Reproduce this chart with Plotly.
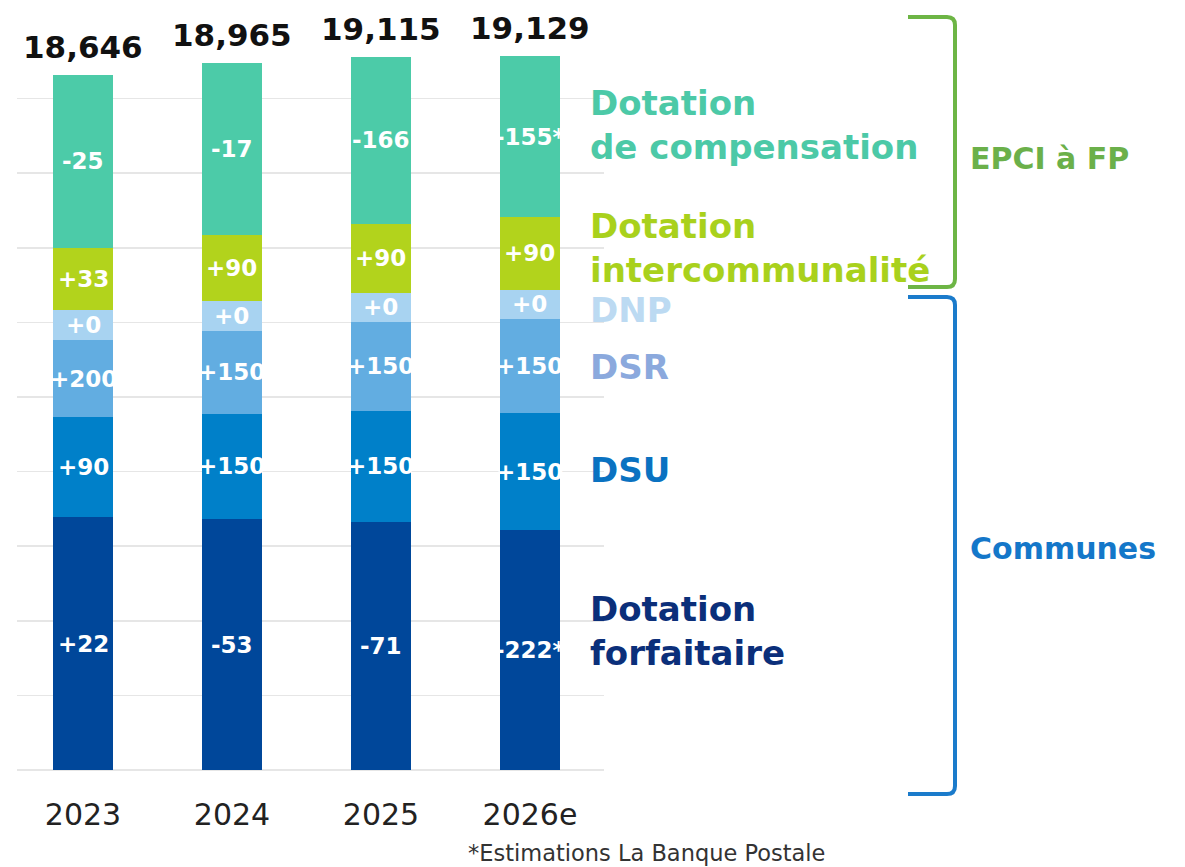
import plotly.graph_objects as go

# ---------------- data (millions d'euros) ----------------
years = ["2023", "2024", "2025", "2026e"]
forfaitaire = [6770, 6717, 6646, 6424]
dsu = [2690, 2840, 2990, 3140]
dsr = [2070, 2220, 2370, 2520]
dnp = [794, 794, 794, 794]
interco = [1670, 1760, 1850, 1940]
compensation = [4652, 4634, 4465, 4311]

var_forfaitaire = ["+22", "-53", "-71", "-222*"]
var_dsu = ["+90", "+150", "+150", "+150"]
var_dsr = ["+200", "+150", "+150", "+150"]
var_dnp = ["+0", "+0", "+0", "+0"]
var_interco = ["+33", "+90", "+90", "+90"]
var_compensation = ["-25", "-17", "-166", "-155*"]

series = [
    ("Dotation forfaitaire", forfaitaire, var_forfaitaire, "#00479A"),
    ("DSU", dsu, var_dsu, "#0080C9"),
    ("DSR", dsr, var_dsr, "#62ADE1"),
    ("DNP", dnp, var_dnp, "#A8D3F1"),
    ("Dotation intercommunalité", interco, var_interco, "#B2D31C"),
    ("Dotation de compensation", compensation, var_compensation, "#4CCBA8"),
]

FONT = "DejaVu Sans"
W, H = 1185, 867
PL, PR, PT, PB = 17, 604, 24, 770  # plot area in pixels


def xp(px):
    return (px - PL) / (PR - PL)


def yp(py):
    return (PB - py) / (PB - PT)


fig = go.Figure()
annotations = []
base = [0] * len(years)
for name, vals, labels, color in series:
    fig.add_trace(go.Bar(
        x=years, y=vals, name=name, marker=dict(color=color, line=dict(width=0)),
        width=0.4, hoverinfo="skip",
    ))
    for i, (v, lab) in enumerate(zip(vals, labels)):
        annotations.append(dict(
            x=i, y=base[i] + v / 2, xref="x", yref="y", text=lab,
            showarrow=False, font=dict(family=FONT, size=23, color="white", weight="bold"),
            xanchor="center", yanchor="middle",
        ))
        base[i] += v

# totals on top
for i, tot in enumerate(base):
    annotations.append(dict(
        x=i, y=tot, xref="x", yref="y", text=f"{tot:,}", showarrow=False,
        font=dict(family=FONT, size=31, color="#111111", weight="bold"),
        xanchor="center", yanchor="bottom", yshift=8,
    ))

# right-hand labels
right_labels = [
    ("Dotation<br>de compensation", 125, "#4CC9A7"),
    ("Dotation<br>intercommunalité", 248, "#A9D11C"),
    ("DNP", 310, "#BCDAF2"),
    ("DSR", 367, "#8BA9DD"),
    ("DSU", 470, "#0A72C1"),
    ("Dotation<br>forfaitaire", 631, "#0B2F7A"),
]
for text, py, color in right_labels:
    annotations.append(dict(
        x=xp(588), y=yp(py), xref="paper", yref="paper", text=text, showarrow=False,
        align="left", xanchor="left", yanchor="middle",
        font=dict(family=FONT, size=34, color=color, weight="bold"),
    ))

annotations.append(dict(
    x=xp(968), y=yp(158), xref="paper", yref="paper", text="EPCI à FP", showarrow=False,
    xanchor="left", yanchor="middle", font=dict(family=FONT, size=30, color="#6BB04A", weight="bold"),
))
annotations.append(dict(
    x=xp(968), y=yp(548), xref="paper", yref="paper", text="Communes", showarrow=False,
    xanchor="left", yanchor="middle", font=dict(family=FONT, size=30, color="#1477C9", weight="bold"),
))
annotations.append(dict(
    x=xp(466), y=yp(853), xref="paper", yref="paper", text="*Estimations La Banque Postale",
    showarrow=False, xanchor="left", yanchor="middle",
    font=dict(family=FONT, size=22.5, color="#333333"),
))


def bracket(top, bottom, color):
    x0, x1, r = 908, 955, 8
    pts = (
        f"M {xp(x0)},{yp(top)} L {xp(x1 - r)},{yp(top)} "
        f"Q {xp(x1)},{yp(top)} {xp(x1)},{yp(top + r)} "
        f"L {xp(x1)},{yp(bottom - r)} "
        f"Q {xp(x1)},{yp(bottom)} {xp(x1 - r)},{yp(bottom)} "
        f"L {xp(x0)},{yp(bottom)}"
    )
    return dict(type="path", path=pts, xref="paper", yref="paper",
                line=dict(color=color, width=4))


shapes = [bracket(17, 287, "#6DB545"), bracket(297, 794, "#1B7BCB")]

fig.update_layout(
    barmode="stack",
    width=W, height=H,
    margin=dict(l=PL, r=W - PR, t=PT, b=H - PB, pad=0),
    paper_bgcolor="white", plot_bgcolor="white",
    showlegend=False,
    annotations=annotations,
    shapes=shapes,
    hovermode=False,
    xaxis=dict(
        type="category", range=[-0.443, 3.497], showgrid=False, zeroline=False,
        showline=False, ticks="", ticklabelstandoff=24,
        tickfont=dict(family=FONT, size=30, color="#222222"),
    ),
    yaxis=dict(
        range=[0, 20000], dtick=2000, showgrid=True, gridcolor="#E6E6E6", gridwidth=1.5,
        zeroline=True, zerolinecolor="#E6E6E6", zerolinewidth=1.5,
        showticklabels=False, ticks="",
    ),
)

fig.write_html(
    "out.html",
    config={"displayModeBar": False, "staticPlot": True},
    post_script="document.body.style.margin='0';document.body.style.overflow='hidden';",
)
